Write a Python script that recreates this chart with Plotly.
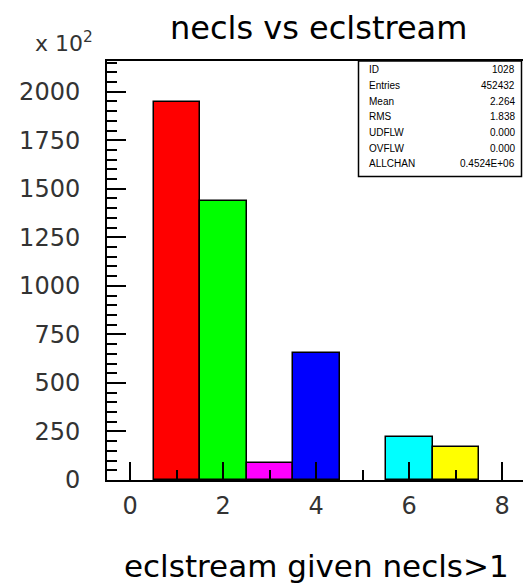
import plotly.graph_objects as go

# Data (units of 10^2 entries)
bins = [1, 2, 3, 4, 6, 7]
counts = [1946, 1439, 89, 656, 223, 171]
colors = ["#ff0000", "#00ff00", "#ff00ff", "#0000ff", "#00ffff", "#ffff00"]
x_ticks = [0, 2, 4, 6, 8]
y_ticks = [0, 250, 500, 750, 1000, 1250, 1500, 1750, 2000]
stat_names = ["ID", "Entries", "Mean", "RMS", "UDFLW", "OVFLW", "ALLCHAN"]
stat_values = ["1028", "452432", "2.264", "1.838", "0.000", "0.000", "0.4524E+06"]

W, H = 523, 587
L, T, B, R = 107, 61, 107, 0
PW, PH = W - L - R, H - T - B

def px(xp):
    return (xp - L) / PW

def py(yp):
    return (H - B - yp) / PH

fig = go.Figure()
fig.add_trace(go.Bar(
    x=bins, y=counts, width=1,
    marker=dict(color=colors, line=dict(color="black", width=1.5)),
    showlegend=False,
))

font_main = "DejaVu Sans"

fig.update_layout(
    width=W, height=H,
    margin=dict(l=L, r=R, t=T, b=B, pad=0),
    plot_bgcolor="white", paper_bgcolor="white",
    bargap=0,
    xaxis=dict(
        range=[-0.5, 8.446], tickvals=x_ticks, ticktext=[str(v) for v in x_ticks],
        ticks="inside", ticklen=18, tickwidth=1.5, tickcolor="black",
        minor=dict(dtick=1, tick0=0, ticks="inside", ticklen=10, tickwidth=1.5, tickcolor="black", showgrid=False),
        showline=True, linecolor="black", linewidth=2, mirror=True,
        showgrid=False, zeroline=False,
        tickfont=dict(family=font_main, size=24, color="#333"),
        ticklabelstandoff=3,
    ),
    yaxis=dict(
        range=[0, 2158], tickvals=y_ticks, ticktext=[str(v) for v in y_ticks],
        ticks="inside", ticklen=19, tickwidth=1.5, tickcolor="black",
        minor=dict(dtick=50, tick0=0, ticks="inside", ticklen=10, tickwidth=1.5, tickcolor="black", showgrid=False),
        showline=True, linecolor="black", linewidth=2, mirror=False,
        showgrid=False, zeroline=False,
        tickfont=dict(family=font_main, size=24, color="#333"),
        ticklabelstandoff=20,
    ),
)

annotations = [
    dict(text="necls vs eclstream", x=px(318), y=py(28), xref="paper", yref="paper",
         showarrow=False, xanchor="center", yanchor="middle",
         font=dict(family=font_main, size=32, color="black")),
    dict(text="eclstream given necls>1", x=px(316), y=py(566), xref="paper", yref="paper",
         showarrow=False, xanchor="center", yanchor="middle",
         font=dict(family=font_main, size=31, color="black")),
    dict(text="x 10<sup>2</sup>", x=px(64), y=py(42), xref="paper", yref="paper",
         showarrow=False, xanchor="center", yanchor="middle",
         font=dict(family=font_main, size=22, color="#333")),
]

row_y = [69.3, 85.5, 101, 116.7, 132.5, 148, 163.5]
for name, val, yy in zip(stat_names, stat_values, row_y):
    annotations.append(dict(text=name, x=px(367), y=py(yy), xref="paper", yref="paper",
                            showarrow=False, xanchor="left", yanchor="middle",
                            font=dict(family="Liberation Sans Narrow, Liberation Sans", size=10, color="black")))
    annotations.append(dict(text=val, x=px(517), y=py(yy), xref="paper", yref="paper",
                            showarrow=False, xanchor="right", yanchor="middle",
                            font=dict(family="Liberation Sans Narrow, Liberation Sans", size=10, color="black")))

fig.update_layout(annotations=annotations)

fig.add_shape(type="rect", xref="paper", yref="paper",
              x0=px(358.5), x1=px(521.5), y0=py(176.5), y1=py(61),
              line=dict(color="black", width=1.5), fillcolor="white", layer="above")

fig.write_html("out.html")
